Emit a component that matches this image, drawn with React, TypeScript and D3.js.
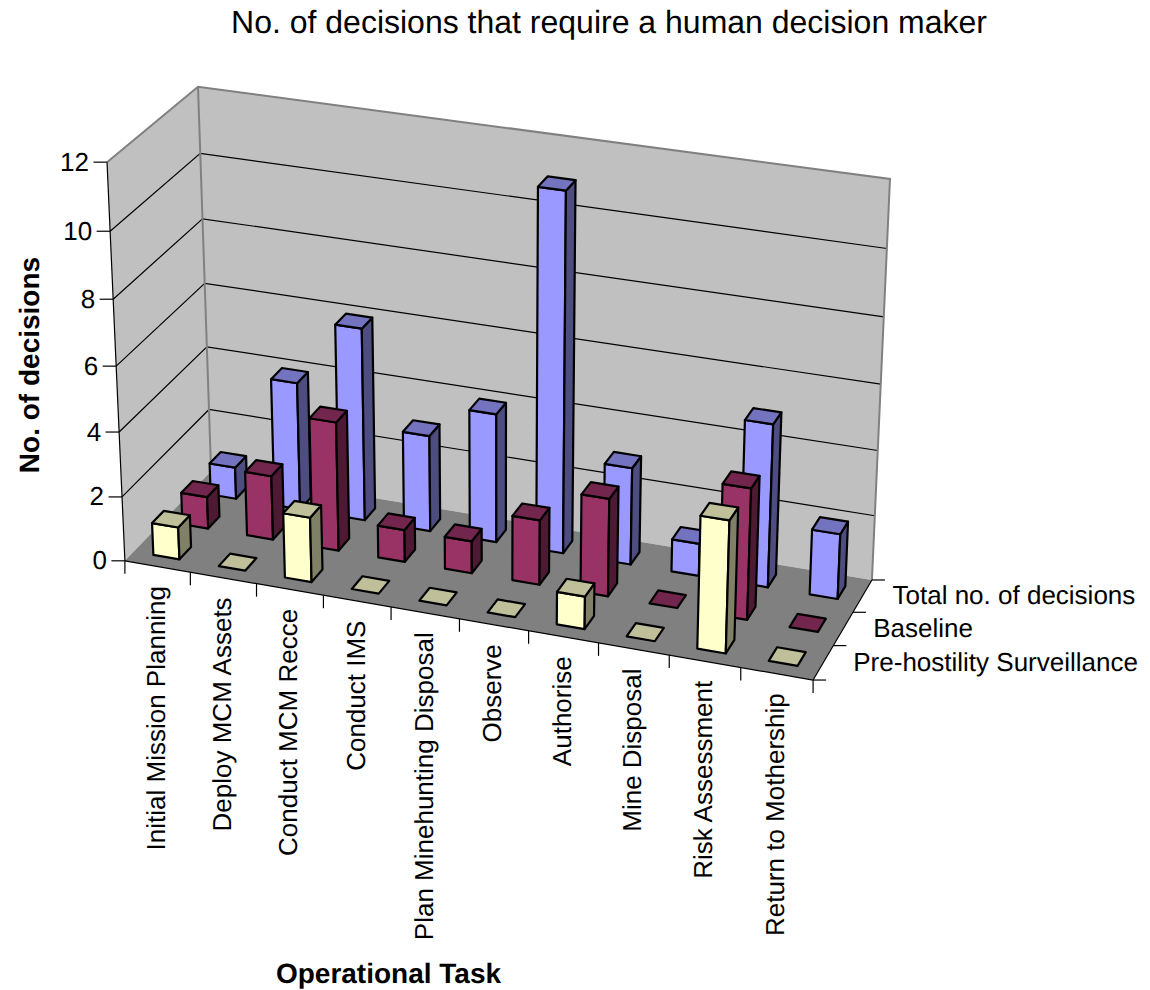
import * as d3 from "d3";

const categories = [
  "Initial Mission Planning",
  "Deploy MCM Assets",
  "Conduct MCM Recce",
  "Conduct IMS",
  "Plan Minehunting Disposal",
  "Observe",
  "Authorise",
  "Mine Disposal",
  "Risk Assessment",
  "Return to Mothership",
];
const seriesNames = ["Pre-hostility Surveillance", "Baseline", "Total no. of decisions"];
const preHostility = [1, 0, 2, 0, 0, 0, 1, 0, 4, 0];
const baseline = [1, 2, 4, 1, 1, 2, 3, 0, 4, 0];
const total = [1, 4, 6, 3, 4, 11, 3, 1, 5, 2];
const valueTicks = [0, 2, 4, 6, 8, 10, 12];

const seriesValues = [preHostility, baseline, total];
const faceColors = ["#FFFFCC", "#993366", "#9999FF"];
const topColors = ["#BFBF99", "#73264D", "#7373BF"];
const sideColors = ["#808066", "#4D1933", "#4D4D80"];

type Pt = [number, number];
type Corner = [number, number, number, number, number];

// Screen anchors of the plot box: u across categories, v up the value axis, w into the depth.
const boxCorners: Corner[] = [
  [0, 0, 0, 125, 561],
  [0, 1, 0, 107, 162],
  [0, 0, 1, 211, 471],
  [0, 1, 1, 198, 87],
  [1, 0, 0, 813, 680],
  [1, 0, 1, 872, 580],
  [1, 1, 1, 890, 179],
];

// Gaussian elimination with partial pivoting.
function solve(A: number[][], b: number[]): number[] {
  const n = b.length;
  const M = A.map((row, i) => [...row, b[i]]);
  for (let c = 0; c < n; c++) {
    let p = c;
    for (let r = c + 1; r < n; r++) if (Math.abs(M[r][c]) > Math.abs(M[p][c])) p = r;
    [M[c], M[p]] = [M[p], M[c]];
    for (let r = 0; r < n; r++) {
      if (r === c) continue;
      const f = M[r][c] / M[c][c];
      for (let k = c; k <= n; k++) M[r][k] -= f * M[c][k];
    }
  }
  return M.map((row, i) => row[n] / row[i]);
}

// Least-squares perspective camera through the box anchors.
function fitCamera(pts: Corner[]): number[] {
  const rows: number[][] = [];
  const rhs: number[] = [];
  for (const [u, v, w, x, y] of pts) {
    rows.push([u, v, w, 1, 0, 0, 0, 0, -x * u, -x * v, -x * w]);
    rhs.push(x);
    rows.push([0, 0, 0, 0, u, v, w, 1, -y * u, -y * v, -y * w]);
    rhs.push(y);
  }
  const n = 11;
  const AtA = d3.range(n).map((i) =>
    d3.range(n).map((j) => d3.sum(rows, (r) => r[i] * r[j]))
  );
  const Atb = d3.range(n).map((i) => d3.sum(rows, (r, k) => r[i] * rhs[k]));
  return solve(AtA, Atb);
}

const cam = fitCamera(boxCorners);
const project = (u: number, v: number, w: number): Pt => {
  const d = cam[8] * u + cam[9] * v + cam[10] * w + 1;
  return [
    (cam[0] * u + cam[1] * v + cam[2] * w + cam[3]) / d,
    (cam[4] * u + cam[5] * v + cam[6] * w + cam[7]) / d,
  ];
};

const uScale = d3.scaleBand<string>().domain(categories).range([0, 1]).paddingInner(0.6).paddingOuter(0.3);
const wScale = d3.scaleBand<string>().domain(seriesNames).range([0, 1]).paddingInner(0.6).paddingOuter(0.3);
const vScale = d3.scaleLinear().domain([0, 12]).range([0, 1]);

const FONT = "'Liberation Sans', Arial, sans-serif";
const LABEL_SIZE = 26;
const poly = (pts: Pt[]) => d3.line()(pts) + "Z";
const seg = (a: Pt, b: Pt) => d3.line()([a, b]) as string;

function Bar({ cat, s, value }: { cat: string; s: number; value: number }) {
  const u0 = uScale(cat)!;
  const u1 = u0 + uScale.bandwidth();
  const w0 = wScale(seriesNames[s])!;
  const w1 = w0 + wScale.bandwidth();
  const h = vScale(value);
  const top = poly([project(u0, h, w0), project(u1, h, w0), project(u1, h, w1), project(u0, h, w1)]);
  const common = { stroke: "#000", strokeWidth: 2.2, strokeLinejoin: "round" as const };
  return (
    <g>
      {value > 0 && (
        <>
          <path
            d={poly([project(u0, 0, w0), project(u1, 0, w0), project(u1, h, w0), project(u0, h, w0)])}
            fill={faceColors[s]}
            {...common}
          />
          <path
            d={poly([project(u1, 0, w0), project(u1, 0, w1), project(u1, h, w1), project(u1, h, w0)])}
            fill={sideColors[s]}
            {...common}
          />
        </>
      )}
      <path d={top} fill={topColors[s]} {...common} />
    </g>
  );
}

export default function App() {
  const wallGray = "#808080";
  const gridValues = valueTicks.filter((t) => t > 0 && t < 12);
  const seriesEdges = d3.range(seriesNames.length + 1).map((i) => i / seriesNames.length);

  return (
    <svg
      width={1150}
      height={990}
      viewBox="0 0 1150 990"
      style={{ position: "absolute", left: 0, top: 0, background: "#fff" }}
      fontFamily={FONT}
      fill="#000"
      textRendering="geometricPrecision"
    >
      <text x={609} y={33} textAnchor="middle" fontSize={32}>
        No. of decisions that require a human decision maker
      </text>

      {/* walls and floor */}
      <path d={poly([project(0, 0, 0), project(0, 1, 0), project(0, 1, 1), project(0, 0, 1)])} fill="#C0C0C0" />
      <path d={poly([project(0, 0, 1), project(0, 1, 1), project(1, 1, 1), project(1, 0, 1)])} fill="#C0C0C0" />
      <path d={poly([project(0, 0, 0), project(1, 0, 0), project(1, 0, 1), project(0, 0, 1)])} fill="#808080" />

      {/* gridlines on the two walls */}
      {gridValues.map((t) => {
        const v = vScale(t);
        return (
          <path
            key={t}
            d={d3.line()([project(0, v, 0), project(0, v, 1), project(1, v, 1)]) as string}
            fill="none"
            stroke="#000"
            strokeWidth={1.2}
          />
        );
      })}

      {/* wall outlines */}
      <path
        d={d3.line()([project(0, 1, 0), project(0, 1, 1), project(1, 1, 1), project(1, 0, 1)]) as string}
        fill="none"
        stroke={wallGray}
        strokeWidth={2}
      />
      <path d={seg(project(0, 1, 1), project(0, 0, 1))} fill="none" stroke={wallGray} strokeWidth={2} />

      {/* axis lines along the box */}
      <path d={seg(project(0, 0, 0), project(0, 1, 0))} stroke="#000" strokeWidth={1.2} />
      <path d={seg(project(0, 0, 0), project(1, 0, 0))} stroke="#000" strokeWidth={1.2} />
      <path d={seg(project(1, 0, 0), project(1, 0, 1))} stroke="#000" strokeWidth={1.2} />

      {/* value axis */}
      {valueTicks.map((t) => {
        const [x, y] = project(0, vScale(t), 0);
        return (
          <g key={t}>
            <path d={seg([x - 13.5, y], [x, y])} stroke="#000" strokeWidth={1.2} />
            <text x={x - 18} y={y + 8.5} textAnchor="end" fontSize={LABEL_SIZE}>
              {t}
            </text>
          </g>
        );
      })}

      {/* category axis */}
      {d3.range(categories.length + 1).map((i) => {
        const [x, y] = project(i / categories.length, 0, 0);
        return <path key={i} d={seg([x, y], [x, y + 13])} stroke="#000" strokeWidth={1.2} />;
      })}
      {categories.map((c) => {
        const [x, y] = project(uScale(c)! + uScale.bandwidth() / 2, 0, 0);
        return (
          <text
            key={c}
            transform={`translate(${x + 7.5},${y + 19.5}) rotate(-90)`}
            textAnchor="end"
            fontSize={LABEL_SIZE}
          >
            {c}
          </text>
        );
      })}

      {/* depth axis */}
      {seriesEdges.map((e) => {
        const [x, y] = project(1, 0, e);
        return <path key={e} d={seg([x, y], [x + 13, y])} stroke="#000" strokeWidth={1.2} />;
      })}
      {seriesNames.map((n) => {
        const [x, y] = project(1, 0, wScale(n)! + wScale.bandwidth() / 2);
        return (
          <text key={n} x={x + 30} y={y + 8.5} fontSize={LABEL_SIZE}>
            {n}
          </text>
        );
      })}

      {/* bars, rear series first and left to right within a series */}
      {d3
        .range(seriesNames.length)
        .reverse()
        .map((s) =>
          categories.map((c, i) => <Bar key={`${s}-${c}`} cat={c} s={s} value={seriesValues[s][i]} />)
        )}

      <text transform="translate(38.5,365) rotate(-90)" textAnchor="middle" fontSize={28} fontWeight="bold">
        No. of decisions
      </text>
      <text x={388.5} y={983} textAnchor="middle" fontSize={28} fontWeight="bold">
        Operational Task
      </text>
    </svg>
  );
}
